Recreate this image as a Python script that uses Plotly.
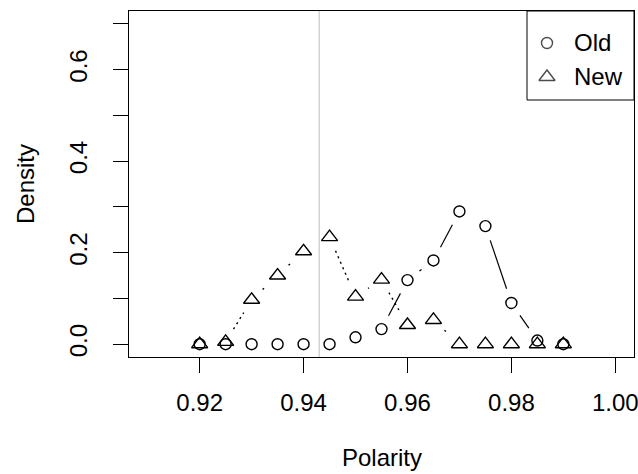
import math
import plotly.graph_objects as go

# ---- data ----
polarity = [0.920, 0.925, 0.930, 0.935, 0.940, 0.945, 0.950, 0.955,
            0.960, 0.965, 0.970, 0.975, 0.980, 0.985, 0.990]
density_old = [0.000, 0.000, 0.000, 0.000, 0.000, 0.000, 0.015, 0.033,
               0.140, 0.183, 0.290, 0.258, 0.090, 0.008, 0.000]
density_new = [0.000, 0.005, 0.097, 0.150, 0.203, 0.234, 0.104, 0.141,
               0.042, 0.053, 0.000, 0.000, 0.000, 0.000, 0.000]
vline_x = 0.943
x_ticks = [0.92, 0.94, 0.96, 0.98, 1.00]
x_tick_labels = ["0.92", "0.94", "0.96", "0.98", "1.00"]
y_ticks = [0.0, 0.1, 0.2, 0.3, 0.4, 0.5, 0.6, 0.7]
y_tick_labels = ["0.0", "", "0.2", "", "0.4", "", "0.6", ""]
series_names = ["Old", "New"]
series_symbols = ["circle-open", "triangle-up-open"]
series_sizes = [11, 14]

# ---- layout geometry ----
W, H = 638, 474
ML, MR, MT, MB = 129, 4, 11, 117
xr = [0.91 - 0.0036, 1.00 + 0.0036]
yr = [0.0 - 0.028, 0.7 + 0.028]
pw, ph = W - ML - MR, H - MT - MB
sx = pw / (xr[1] - xr[0])
sy = ph / (yr[1] - yr[0])


def px_x(p):  # page pixel -> paper fraction
    return (p - ML) / pw


def px_y(p):
    return (H - MB - p) / ph


def gapped(xs, ys, gap=15.0):
    """R type='b' style: segments shortened near each point."""
    X, Y = [], []
    for i in range(len(xs) - 1):
        x1, y1, x2, y2 = xs[i], ys[i], xs[i + 1], ys[i + 1]
        L = math.hypot((x2 - x1) * sx, (y2 - y1) * sy)
        if L <= 2 * gap:
            continue
        f = gap / L
        X += [x1 + (x2 - x1) * f, x2 - (x2 - x1) * f, None]
        Y += [y1 + (y2 - y1) * f, y2 - (y2 - y1) * f, None]
    return X, Y


FONT = "Arial, Liberation Sans, sans-serif"
FS = 24
fig = go.Figure()

ox, oy = gapped(polarity, density_old)
nx, ny = gapped(polarity, density_new)
fig.add_trace(go.Scatter(x=ox, y=oy, mode="lines", showlegend=False,
                         line=dict(color="black", width=1.2)))
fig.add_trace(go.Scatter(x=nx, y=ny, mode="lines", showlegend=False,
                         line=dict(color="black", width=1.4, dash="2px,4px")))
for name, sym, sz, ys in zip(series_names, series_symbols, series_sizes,
                             [density_old, density_new]):
    fig.add_trace(go.Scatter(x=polarity, y=ys, mode="markers", name=name,
                             showlegend=False,
                             marker=dict(symbol=sym, size=sz, color="black",
                                         line=dict(width=1.4, color="black"))))

fig.add_shape(type="line", xref="x", yref="paper", x0=vline_x, x1=vline_x,
              y0=0, y1=1, line=dict(color="#bdbdbd", width=1), layer="below")

# ---- manual legend (R style, top-right) ----
fig.add_shape(type="rect", xref="paper", yref="paper",
              x0=px_x(527), x1=1, y0=px_y(100), y1=1,
              line=dict(color="black", width=1), fillcolor="rgba(0,0,0,0)",
              layer="above")
leg_rows = [43, 77]
fig.add_trace(go.Scatter(x=[px_x(547)] * 2, y=[px_y(r) for r in leg_rows],
                         xaxis="x2", yaxis="y2", mode="markers", showlegend=False,
                         marker=dict(symbol=series_symbols, size=series_sizes,
                                     color="black",
                                     line=dict(width=1.4, color="black"))))
for name, r in zip(series_names, leg_rows):
    fig.add_annotation(text=name, xref="paper", yref="paper", x=px_x(572),
                       y=px_y(r), xanchor="left", yanchor="middle",
                       showarrow=False, font=dict(size=FS, color="black", family=FONT))

fig.add_annotation(text="Polarity", xref="paper", yref="paper", x=0.5,
                   y=px_y(457), xanchor="center", yanchor="middle",
                   showarrow=False, font=dict(size=FS, color="black", family=FONT))
fig.add_annotation(text="Density", xref="paper", yref="paper",
                   x=px_x(25), y=0.5, textangle=-90,
                   xanchor="center", yanchor="middle",
                   showarrow=False, font=dict(size=FS, color="black", family=FONT))

axis_common = dict(showgrid=False, zeroline=False, showline=True, mirror=True,
                   linecolor="black", linewidth=1, ticks="outside", ticklen=15,
                   tickcolor="black", tickwidth=1, ticklabeloverflow="allow",
                   automargin=False,
                   tickfont=dict(size=FS, color="black", family=FONT))
fig.update_xaxes(range=xr, tickvals=x_ticks, ticktext=x_tick_labels,
                 ticklabelstandoff=9, **axis_common)
fig.update_yaxes(range=yr, tickvals=y_ticks, ticktext=y_tick_labels,
                 tickangle=-90, ticklabelstandoff=16, **axis_common)

fig.update_layout(
    width=W, height=H,
    margin=dict(l=ML, r=MR, t=MT, b=MB, pad=0, autoexpand=False),
    paper_bgcolor="white", plot_bgcolor="white",
    font=dict(family=FONT, color="black"),
    showlegend=False,
    xaxis2=dict(overlaying="x", range=[0, 1], visible=False, fixedrange=True,
                automargin=False),
    yaxis2=dict(overlaying="y", range=[0, 1], visible=False, fixedrange=True,
                automargin=False),
)

fig.write_html("out.html")
